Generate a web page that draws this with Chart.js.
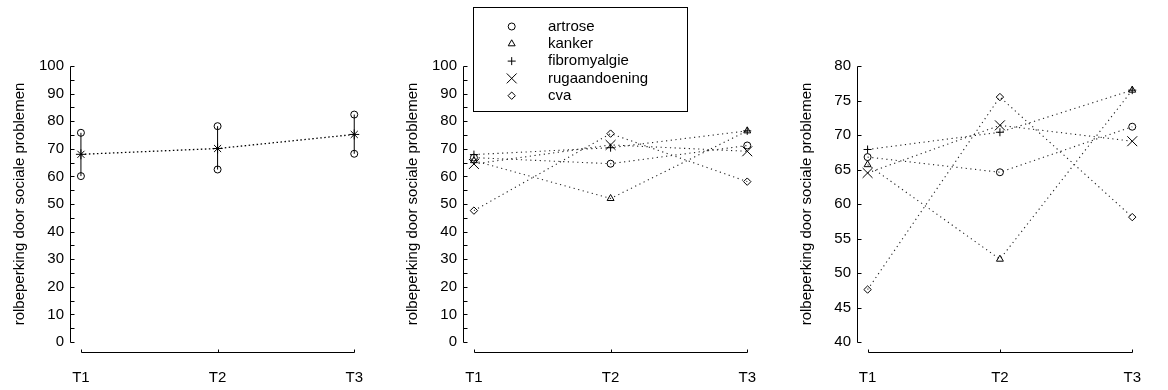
<!DOCTYPE html>
<html>
<head>
<meta charset="utf-8">
<script src="https://cdn.jsdelivr.net/npm/chart.js@4"></script>
<style>
  body { margin: 0; background: #fff; }
  canvas { position: absolute; top: 0; }
</style>
</head>
<body>
<canvas id="links" width="390" height="390" style="left:0px"></canvas>
<canvas id="midden" width="390" height="390" style="left:393px"></canvas>
<canvas id="rechts" width="381" height="390" style="left:787px"></canvas>
<script>
// meetmomenten
const periodes = ["T1", "T2", "T3"];
const tijdX = [1, 2, 3];

// linker paneel: gemiddelde met spreiding
const gemiddelde = [68.0, 70.1, 75.2];
const ondergrens = [60.1, 62.5, 68.2];
const bovengrens = [75.8, 78.2, 82.4];

// per diagnosegroep
const groepen = ["artrose", "kanker", "fibromyalgie", "rugaandoening", "cva"];
const artrose = [66.8, 64.6, 71.2];
const kanker = [65.7, 52.0, 76.5];
const fibromyalgie = [67.9, 70.4, 76.5];
const rugaandoening = [64.5, 71.4, 69.1];
const cva = [47.6, 75.5, 58.1];

const asTitel = "rolbeperking door sociale problemen";

Chart.defaults.font.family = "'Liberation Sans', Arial, sans-serif";
Chart.defaults.color = "#000";

function punten(waarden) {
  return waarden.map((w, i) => ({ x: tijdX[i], y: w }));
}

// eigen assen: y-as met ticks naar binnen, losse x-as eronder
const assenPlugin = {
  id: "assen",
  afterDraw(chart, args, opts) {
    const { ctx, chartArea, scales: { x, y } } = chart;
    ctx.save();
    ctx.strokeStyle = "#000";
    ctx.lineWidth = 1;
    ctx.setLineDash([]);
    ctx.beginPath();
    const ax = Math.round(chartArea.left) + 0.5;
    ctx.moveTo(ax, Math.round(y.getPixelForValue(y.max)) + 0.5);
    ctx.lineTo(ax, Math.round(y.getPixelForValue(y.min)) + 0.5);
    for (let v = y.min; v <= y.max + 0.001; v += opts.stap) {
      const py = Math.round(y.getPixelForValue(v)) + 0.5;
      ctx.moveTo(ax, py);
      ctx.lineTo(ax + 4, py);
    }
    const ay = Math.round(chartArea.bottom + 10) + 0.5;
    ctx.moveTo(Math.round(x.getPixelForValue(tijdX[0])) + 0.5, ay);
    ctx.lineTo(Math.round(x.getPixelForValue(tijdX[tijdX.length - 1])) + 0.5, ay);
    tijdX.forEach(v => {
      const px = Math.round(x.getPixelForValue(v)) + 0.5;
      ctx.moveTo(px, ay);
      ctx.lineTo(px, ay - 3);
    });
    ctx.stroke();
    ctx.restore();
  }
};

// legenda in een kader boven het middelste paneel
const legendaPlugin = {
  id: "legenda",
  afterDraw(chart) {
    const ctx = chart.ctx;
    ctx.save();
    ctx.fillStyle = "#fff";
    ctx.fillRect(80, 7, 214, 104);
    ctx.strokeStyle = "#000";
    ctx.lineWidth = 1;
    ctx.setLineDash([]);
    ctx.strokeRect(80.5, 7.5, 214, 104);
    ctx.font = "15px 'Liberation Sans', Arial, sans-serif";
    ctx.textBaseline = "middle";
    chart.data.datasets.forEach((ds, i) => {
      const cy = 26.5 + i * 17.3;
      ctx.fillStyle = "rgba(0,0,0,0)";
      ctx.strokeStyle = "#000";
      Chart.helpers.drawPoint(ctx, { pointStyle: ds.pointStyle, radius: ds.pointRadius, borderWidth: 1, rotation: 0 }, 118.7, cy);
      ctx.fillStyle = "#000";
      ctx.fillText(ds.label, 155, cy);
    });
    ctx.restore();
  }
};

function opties(yMin, yMax, yStap, tickStap) {
  return {
    responsive: false,
    animation: false,
    devicePixelRatio: 1,
    layout: { padding: { top: 66, right: 33, bottom: 0, left: 0 } },
    plugins: {
      legend: { display: false },
      tooltip: { enabled: false },
      assen: { stap: tickStap }
    },
    scales: {
      x: {
        type: "linear",
        min: 0.92,
        max: 3,
        grid: { display: false, drawTicks: false },
        border: { display: false },
        afterBuildTicks: s => { s.ticks = tijdX.map(v => ({ value: v })); },
        afterFit: s => { s.height = 48; },
        ticks: {
          padding: 27,
          autoSkip: false,
          maxRotation: 0,
          font: { size: 15 },
          callback: v => periodes[tijdX.indexOf(v)]
        }
      },
      y: {
        min: yMin,
        max: yMax,
        grid: { display: false, drawTicks: false },
        border: { display: false },
        afterFit: s => { s.width = 70; },
        ticks: { stepSize: yStap, padding: 6, font: { size: 15 } },
        title: {
          display: true,
          text: asTitel,
          font: { size: 15 },
          padding: { top: 11, bottom: 0 }
        }
      }
    }
  };
}

// linker paneel
const foutbalken = tijdX.map((t, i) => ({
  data: [{ x: t, y: ondergrens[i] }, { x: t, y: bovengrens[i] }],
  clip: false,
  showLine: true,
  borderColor: "#000",
  borderWidth: 1,
  pointStyle: "circle",
  pointRadius: 3.5,
  pointBorderWidth: 1,
  pointBackgroundColor: "rgba(0,0,0,0)"
}));

new Chart(document.getElementById("links"), {
  type: "scatter",
  data: {
    datasets: [
      {
        label: "gemiddelde",
        data: punten(gemiddelde),
        clip: false,
        showLine: true,
        borderColor: "#000",
        borderWidth: 1.3,
        borderDash: [1.5, 2.5],
        pointStyle: "star",
        pointRadius: 5,
        pointBorderWidth: 1,
        pointBorderColor: "#000"
      },
      ...foutbalken
    ]
  },
  options: opties(0, 100, 10, 5),
  plugins: [assenPlugin]
});

function groepData() {
  const reeksen = [artrose, kanker, fibromyalgie, rugaandoening, cva];
  const stijlen = ["circle", "triangle", "cross", "crossRot", "rectRot"];
  const stralen = [3.5, 4, 4, 7, 3.7];
  return reeksen.map((r, i) => ({
    label: groepen[i],
    data: punten(r),
    clip: false,
    showLine: true,
    borderColor: "#222",
    borderWidth: 1.1,
    borderDash: [1.2, 3.5],
    pointStyle: stijlen[i],
    pointRadius: stralen[i],
    pointBorderWidth: 1,
    pointBorderColor: "#000",
    pointBackgroundColor: "rgba(0,0,0,0)"
  }));
}

// middelste paneel
new Chart(document.getElementById("midden"), {
  type: "scatter",
  data: { datasets: groepData() },
  options: opties(0, 100, 10, 5),
  plugins: [assenPlugin, legendaPlugin]
});

// rechter paneel, ingezoomd
const rechtsOpties = opties(40, 80, 5, 5);
rechtsOpties.layout.padding.right = 24;
new Chart(document.getElementById("rechts"), {
  type: "scatter",
  data: { datasets: groepData() },
  options: rechtsOpties,
  plugins: [assenPlugin]
});
</script>
</body>
</html>
